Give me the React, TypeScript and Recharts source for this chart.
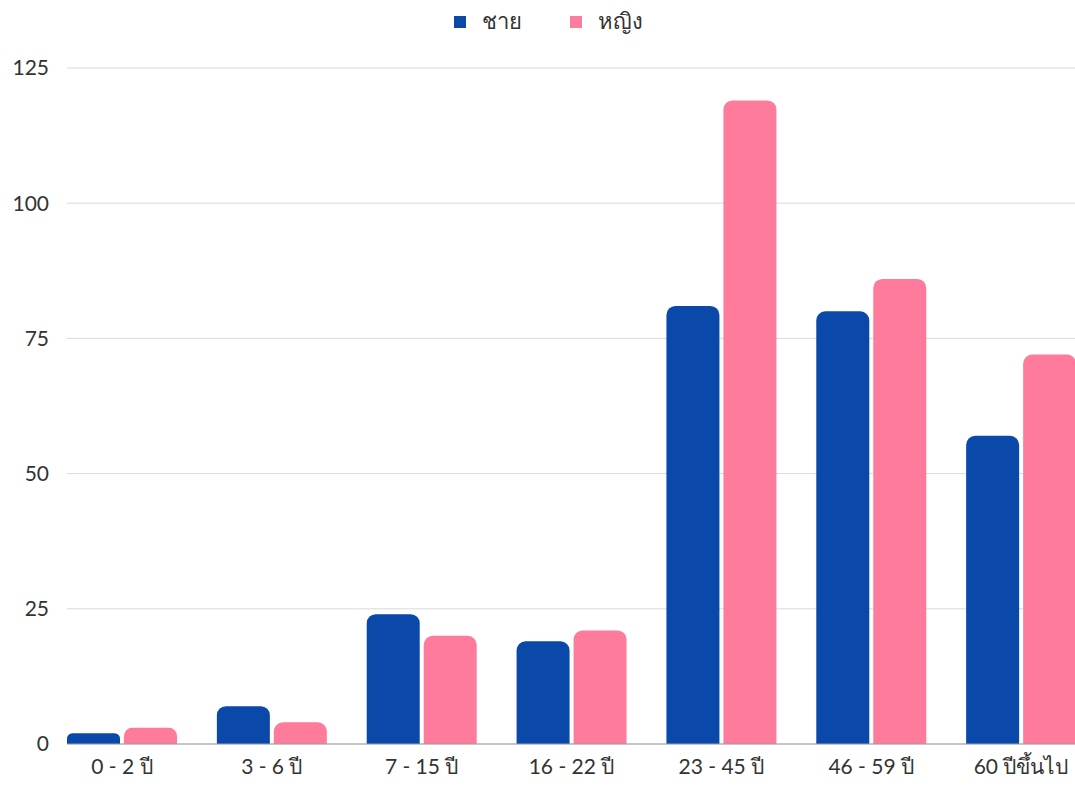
import React from 'react';
import { BarChart, Bar, XAxis, YAxis, CartesianGrid, Legend } from 'recharts';

// age groups and counts by sex
const ageGroups = ['0 - 2 ปี', '3 - 6 ปี', '7 - 15 ปี', '16 - 22 ปี', '23 - 45 ปี', '46 - 59 ปี', '60 ปีขึ้นไป'];
const male = [2, 7, 24, 19, 81, 80, 57];
const female = [3, 4, 20, 21, 119, 86, 72];
const yTicks = [0, 25, 50, 75, 100, 125];

const BLUE = '#0a48a9';
const PINK = '#ff7b9b';
const FONT = 'Lato, "Open Sans", sans-serif';

const data = ageGroups.map((g, i) => ({ group: g, male: male[i], female: female[i] }));

const LegendContent = (props: any) => {
  const items = props.payload || [];
  return (
    <div style={{ display: 'flex', justifyContent: 'center', alignItems: 'center', paddingLeft: 20, fontFamily: FONT }}>
      {items.map((it: any, i: number) => (
        <div key={i} style={{ display: 'flex', alignItems: 'center', marginRight: i < items.length - 1 ? 48 : 0 }}>
          <span style={{ display: 'inline-block', width: 12, height: 12, background: it.color, marginRight: 16 }} />
          <span style={{ color: '#333', fontSize: 22 }}>{it.value}</span>
        </div>
      ))}
    </div>
  );
};

export default function App() {
  return (
    <div style={{ position: 'absolute', left: 0, top: 0, width: 1075, height: 787, overflow: 'hidden', background: '#fff', fontFamily: FONT }}>
      <BarChart
        width={1076}
        height={787}
        data={data}
        margin={{ top: 30, right: 0, left: 0, bottom: 0 }}
        barGap={4}
        barCategoryGap={20}
      >
        <CartesianGrid vertical={false} stroke="#d9d9d9" />
        <Legend
          verticalAlign="top"
          align="center"
          height={38}
          wrapperStyle={{ top: 4 }}
          content={<LegendContent />}
        />
        <XAxis
          dataKey="group"
          padding={{ left: -20, right: -20 }}
          tickLine={false}
          axisLine={{ stroke: '#9e9e9e' }}
          height={43}
          tickMargin={9}
          tick={{ fill: '#333', fontSize: 21, fontFamily: FONT }}
          interval={0}
        />
        <YAxis
          domain={[0, 125]}
          ticks={yTicks}
          width={67}
          tickLine={false}
          axisLine={false}
          tickMargin={12}
          tick={{ fill: '#333', fontSize: 21, fontFamily: FONT }}
        />
        <Bar dataKey="male" name="ชาย" fill={BLUE} radius={[9, 9, 0, 0]} isAnimationActive={false} />
        <Bar dataKey="female" name="หญิง" fill={PINK} radius={[9, 9, 0, 0]} isAnimationActive={false} />
      </BarChart>
    </div>
  );
}
